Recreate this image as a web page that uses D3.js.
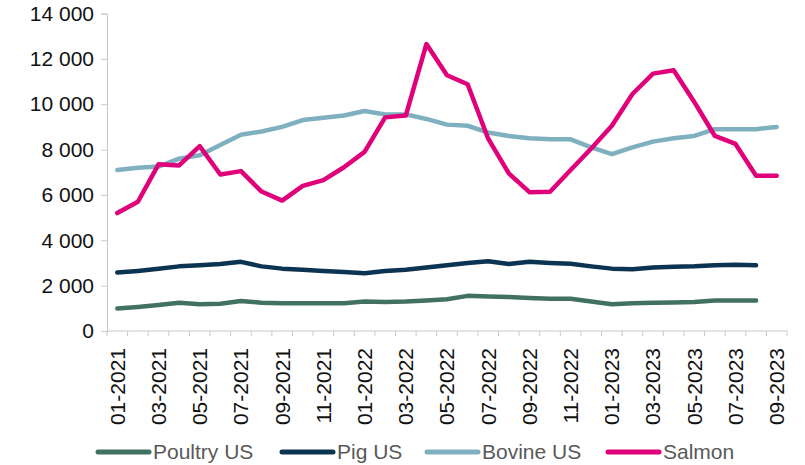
<!DOCTYPE html>
<html>
<head>
<meta charset="utf-8">
<script src="https://cdn.jsdelivr.net/npm/d3@7"></script>
<style>
  body { margin: 0; background: #fff; }
  text { font-family: "Liberation Sans", Arial, sans-serif; }
</style>
</head>
<body>
<svg id="chart" width="805" height="465"></svg>
<script>
// monthly categories, 01-2021 .. 09-2023
const months = [
  '01-2021', '02-2021', '03-2021', '04-2021', '05-2021', '06-2021', '07-2021', '08-2021',
  '09-2021', '10-2021', '11-2021', '12-2021', '01-2022', '02-2022', '03-2022', '04-2022',
  '05-2022', '06-2022', '07-2022', '08-2022', '09-2022', '10-2022', '11-2022', '12-2022',
  '01-2023', '02-2023', '03-2023', '04-2023', '05-2023', '06-2023', '07-2023', '08-2023',
  '09-2023'
];
const yTicks = [0, 2000, 4000, 6000, 8000, 10000, 12000, 14000];

// Poultry and Pig stop at 08-2023
const poultry = [990, 1060, 1150, 1250, 1180, 1200, 1320, 1250, 1220, 1220, 1220, 1220,
  1300, 1280, 1300, 1350, 1400, 1550, 1520, 1500, 1450, 1420, 1420, 1300,
  1180, 1220, 1250, 1260, 1280, 1350, 1350, 1350];
const pig = [2580, 2650, 2740, 2850, 2900, 2950, 3050, 2850, 2750, 2700, 2650, 2600,
  2550, 2650, 2700, 2800, 2900, 3000, 3080, 2950, 3050, 3000, 2970, 2850,
  2750, 2720, 2800, 2830, 2850, 2900, 2920, 2900];
const bovine = [7100, 7200, 7250, 7600, 7750, 8200, 8650, 8800, 9000, 9300, 9400, 9500,
  9700, 9550, 9550, 9350, 9100, 9050, 8750, 8600, 8500, 8450, 8450, 8100,
  7800, 8100, 8350, 8500, 8600, 8900, 8900, 8900, 9000];
const salmon = [5200, 5700, 7350, 7300, 8150, 6900, 7050, 6150, 5750, 6400, 6650, 7220,
  7900, 9420, 9500, 12650, 11280, 10880, 8480, 6950, 6120, 6140, 7100, 8050,
  9050, 10450, 11350, 11500, 10100, 8600, 8250, 6850, 6850];

const seriesNames = ['Poultry US', 'Pig US', 'Bovine US', 'Salmon'];
const seriesValues = [poultry, pig, bovine, salmon];
const colors = ['#41725f', '#0b3352', '#7fb0c0', '#e0007a'];

const svg = d3.select('#chart');

const x = d3.scaleBand()
  .domain(months)
  .range([107, 787])
  .paddingInner(0)
  .paddingOuter(0);

const y = d3.scaleLinear()
  .domain([0, 14000])
  .range([331, 13.5]);

const locale = d3.formatLocale({ decimal: '.', thousands: ' ', grouping: [3], currency: ['', ''] });
const fmt = locale.format(',');

// y axis
const yAxis = svg.append('g')
  .attr('transform', 'translate(107,0)')
  .call(d3.axisLeft(y).tickValues(yTicks).tickSize(6).tickPadding(7).tickFormat(fmt));
yAxis.select('.domain').attr('stroke', '#c8c8c8');
yAxis.selectAll('.tick line').attr('stroke', '#c8c8c8');
yAxis.selectAll('.tick text')
  .attr('fill', '#111')
  .style('font-size', '21px');

// x axis: boundaries between categories as ticks, labels every 2 months
const xg = svg.append('g').attr('transform', 'translate(0,331)');
xg.append('line')
  .attr('x1', x.range()[0]).attr('x2', x.range()[1])
  .attr('stroke', '#c8c8c8');
const bounds = months.map(m => x(m)).concat([x(months[months.length - 1]) + x.bandwidth()]);
xg.selectAll('.bound')
  .data(bounds)
  .enter()
  .append('line')
  .attr('class', 'bound')
  .attr('x1', d => d).attr('x2', d => d)
  .attr('y1', 0).attr('y2', 5)
  .attr('stroke', '#c8c8c8');

const labelMonths = months.filter((m, i) => i % 2 === 0);
xg.selectAll('.xlab')
  .data(labelMonths)
  .enter()
  .append('text')
  .attr('class', 'xlab')
  .attr('transform', d => `translate(${x(d) + x.bandwidth() / 2},17) rotate(-90)`)
  .attr('text-anchor', 'end')
  .attr('dy', '0.35em')
  .attr('fill', '#111')
  .style('font-size', '21px')
  .text(d => d);

// lines
const line = d3.line()
  .x((v, i) => x(months[i]) + x.bandwidth() / 2)
  .y(v => y(v));

svg.selectAll('.series')
  .data(seriesValues)
  .enter()
  .append('path')
  .attr('class', 'series')
  .attr('d', d => line(d))
  .attr('fill', 'none')
  .attr('stroke', (d, i) => colors[i])
  .attr('stroke-width', 4.5)
  .attr('stroke-linejoin', 'round')
  .attr('stroke-linecap', 'round');

// legend
const legendX = [98, 282, 427, 608];
const legend = svg.selectAll('.legend')
  .data(seriesNames)
  .enter()
  .append('g')
  .attr('class', 'legend')
  .attr('transform', (d, i) => `translate(${legendX[i]},452)`);

legend.append('line')
  .attr('x1', 0).attr('x2', 51)
  .attr('stroke', (d, i) => colors[i])
  .attr('stroke-width', 5)
  .attr('stroke-linecap', 'round');

legend.append('text')
  .attr('x', 55)
  .attr('dy', '0.35em')
  .attr('fill', '#595959')
  .style('font-size', '21px')
  .text(d => d);
</script>
</body>
</html>
